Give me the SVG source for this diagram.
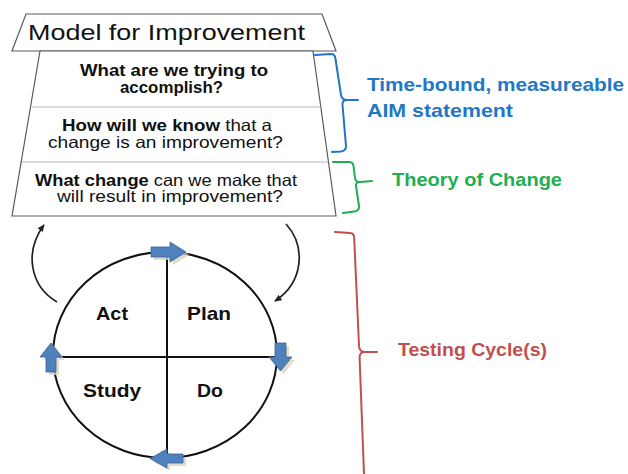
<svg xmlns="http://www.w3.org/2000/svg" width="628" height="474" viewBox="0 0 628 474">
  <style>
    .frame { fill: #ffffff; stroke: #5a5a5a; stroke-width: 1.2; }
    .divider { stroke: #b5b5b5; stroke-width: 1; }
    .t { font-family: "Liberation Sans", Arial, sans-serif; fill: #111111; }
    .b { font-weight: bold; }
    .q { font-size: 16.5px; }
    .brace { fill: none; stroke-width: 2; stroke-linejoin: round; stroke-linecap: round; }
    .label { font-family: "Liberation Sans", Arial, sans-serif; font-weight: bold; font-size: 18.5px; }
    .ring { fill: none; stroke: #111111; stroke-width: 2; }
    .axis { stroke: #111111; stroke-width: 2; }
    .block { fill: #4f81bd; stroke: #3a6496; stroke-width: 0.8; }
    .shade { fill: #d9d4bd; opacity: 0.8; }
    .loop { fill: none; stroke: #222222; stroke-width: 1.7; }
  </style>
  <defs>
    <marker id="tip" viewBox="0 0 10 10" refX="8" refY="5" markerWidth="8" markerHeight="8" markerUnits="userSpaceOnUse" orient="auto">
      <path d="M0 1 L9 5 L0 9 Z" fill="#222222"/>
    </marker>
  </defs>

  <!-- heading trapezoid -->
  <g id="title">
    <polygon class="frame" points="26,14 322,14 336,51 12,51"/>
    <text class="t" x="28" y="40" font-size="22" textLength="277" lengthAdjust="spacingAndGlyphs">Model for Improvement</text>
  </g>

  <!-- question box with its three rows -->
  <g id="questions">
    <polygon class="frame" points="40,51 313,51 336,216 12,216"/>
    <line class="divider" x1="32" y1="107" x2="321" y2="107"/>
    <line class="divider" x1="22" y1="162" x2="328" y2="162" stroke="#7a7a7a"/>
  </g>

  <g id="q-aim">
    <text class="t b q" x="80" y="76" textLength="188" lengthAdjust="spacingAndGlyphs">What are we trying to</text>
    <text class="t b q" x="120" y="93" textLength="103" lengthAdjust="spacingAndGlyphs">accomplish?</text>
  </g>

  <g id="q-measure">
    <text class="t q" x="62" y="131" textLength="210" lengthAdjust="spacingAndGlyphs"><tspan class="b">How will we know</tspan> that a</text>
    <text class="t q" x="48" y="148" textLength="235" lengthAdjust="spacingAndGlyphs">change is an improvement?</text>
  </g>

  <g id="q-change">
    <text class="t q" x="35" y="186" textLength="262" lengthAdjust="spacingAndGlyphs"><tspan class="b">What change</tspan> can we make that</text>
    <text class="t q" x="57" y="202" textLength="226" lengthAdjust="spacingAndGlyphs">will result in improvement?</text>
  </g>

  <!-- side labels -->
  <g id="aim-label">
    <text class="label" fill="#1f77c6" x="367" y="91" textLength="257" lengthAdjust="spacingAndGlyphs">Time-bound, measureable</text>
    <text class="label" fill="#1f77c6" x="367" y="117" textLength="146" lengthAdjust="spacingAndGlyphs">AIM statement</text>
  </g>
  <g id="theory-label">
    <text class="label" fill="#1fae52" x="392" y="186" font-size="18" textLength="170" lengthAdjust="spacingAndGlyphs">Theory of Change</text>
  </g>
  <g id="testing-label">
    <text class="label" fill="#c0504d" x="398" y="356" font-size="18" textLength="149" lengthAdjust="spacingAndGlyphs">Testing Cycle(s)</text>
  </g>

  <!-- PDSA cycle -->
  <g id="cycle">
    <ellipse class="ring" cx="165" cy="355" rx="112" ry="103"/>
    <line class="axis" x1="167" y1="252" x2="167" y2="458"/>
    <line class="axis" x1="53" y1="357" x2="277" y2="357"/>

    <g id="cycle-arrows">
      <g class="shade">
        <path d="M154 250 H173 V245 L189 255 L173 265 V260 H154 Z"/>
        <path d="M278 346 H289 V360 H295 L283.5 374 L272 360 H278 Z"/>
        <path d="M186 457 H170 V452 L153 461.5 L170 471 V466 H186 Z"/>
        <path d="M49 375 V360 H43 L54 346 L65 360 H59 V375 Z"/>
      </g>
      <path class="block" d="M151 247 H170 V242 L186 252 L170 262 V257 H151 Z"/>
      <path class="block" d="M275 343 H286 V357 H292 L280.5 371 L269 357 H275 Z"/>
      <path class="block" d="M183 454 H167 V449 L150 458.5 L167 468 V463 H183 Z"/>
      <path class="block" d="M46 372 V357 H40 L51 343 L62 357 H56 V372 Z"/>
    </g>

    <text class="t b" font-size="18.5" x="96" y="320" textLength="32" lengthAdjust="spacingAndGlyphs">Act</text>
    <text class="t b" font-size="18.5" x="187" y="320" textLength="44" lengthAdjust="spacingAndGlyphs">Plan</text>
    <text class="t b" font-size="18.5" x="83" y="397" textLength="58" lengthAdjust="spacingAndGlyphs">Study</text>
    <text class="t b" font-size="18.5" x="197" y="397" textLength="26" lengthAdjust="spacingAndGlyphs">Do</text>
  </g>

  <!-- connectors: loop arrows and braces -->
  <g id="connectors">
    <path class="loop" d="M57 302 C 30 286, 24 252, 44 225" marker-end="url(#tip)"/>
    <path class="loop" d="M286 224 C 306 246, 304 282, 275 301" marker-end="url(#tip)"/>

    <path class="brace" stroke="#2374c6" d="M315 55 L331 54 Q335 54 335.5 59 L341 95 Q342 100 347 100 L358 100 M347 100 Q342 100 342.5 105 L346 146 Q346 151 341 151.5 L332 152"/>
    <path class="brace" stroke="#1fae52" d="M333 162 L349 162 Q353 162 353.5 166 L355 178 Q355.5 182 360 182 L372 181 M360 182 Q355.5 182 356 186 L359 206 Q359.5 211 354 211.5 L343 213"/>
    <path class="brace" stroke="#c0504d" d="M335 232 L350 233 Q354 233 354.2 238 L359 346 Q359.3 352 365 352 L377 352 M365 352 Q359.3 352 359.6 358 L364 474"/>
  </g>
</svg>
